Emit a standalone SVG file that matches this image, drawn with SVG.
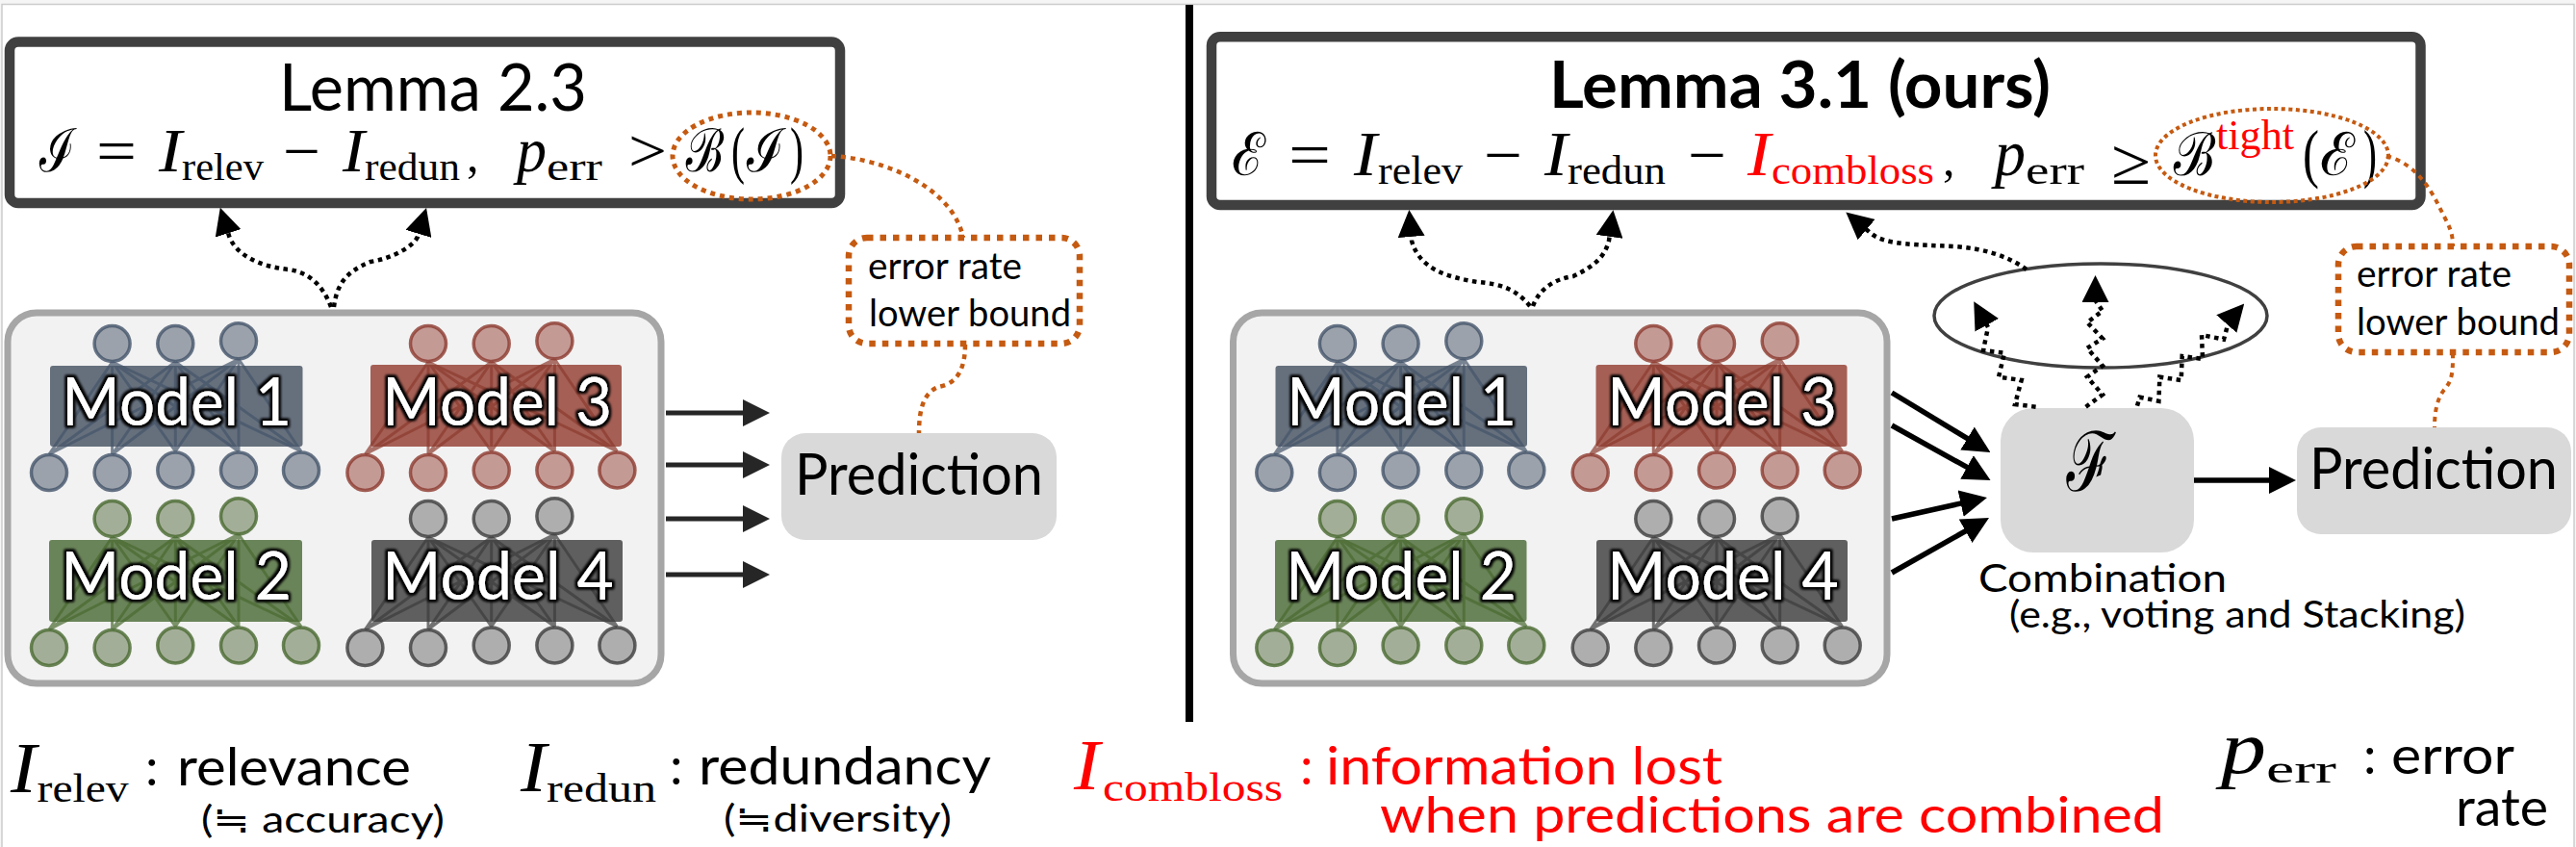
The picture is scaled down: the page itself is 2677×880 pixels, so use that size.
<svg xmlns="http://www.w3.org/2000/svg" xmlns:xlink="http://www.w3.org/1999/xlink" width="2677" height="880" viewBox="0 0 2677 880">
<style>
text{font-family:"Liberation Serif","DejaVu Serif",serif;fill:#000}
.s{font-family:Lato,"Liberation Sans","Noto Sans CJK JP",sans-serif}
.c{font-family:"DejaVu Serif","Noto Sans",serif;font-style:italic}
.i{font-style:italic}
.red{fill:#f00}
.lemma{fill:#fff;stroke:#404040;stroke-width:10.5}
.pbox{fill:#d9d9d9}
.mbox{fill:#f2f2f2;stroke:#a6a6a6;stroke-width:7}
.ell{fill:none;stroke:#c55a11;stroke-width:5;stroke-dasharray:5 5}
.ebox{fill:#fff;stroke:#c55a11;stroke-width:6.5;stroke-dasharray:6.5 7}
.lead{fill:none;stroke:#c55a11;stroke-width:4.5;stroke-dasharray:5 5}
.dot{fill:none;stroke:#000;stroke-width:4.5;stroke-dasharray:4.5 4.5;marker-end:url(#ah)}
.arr{fill:none;stroke:#262626;stroke-width:5;marker-end:url(#ag)}
.ark{fill:none;stroke:#000;stroke-width:5.5;marker-end:url(#ah)}
.lab{fill:#fff;font-size:70px;filter:url(#glow)}
#net path{fill:none;stroke:var(--e);stroke-width:3;stroke-opacity:.7}
#net circle{fill:var(--n);stroke:var(--e);stroke-width:3.5;stroke-opacity:.8}
.blue{--e:#44546a;--n:#9ca2ab}
.redn{--e:#8c3a2e;--n:#c49a95}
.green{--e:#48692f;--n:#a3ae98}
.gray{--e:#3c3c3c;--n:#aeaeae}
</style>
<defs>
<marker id="ah" markerUnits="userSpaceOnUse" markerWidth="28" markerHeight="28" refX="14" refY="14" orient="auto"><path d="M0 0L28 14L0 28z" fill="#000"/></marker>
<marker id="ag" markerUnits="userSpaceOnUse" markerWidth="28" markerHeight="28" refX="14" refY="14" orient="auto"><path d="M0 0L28 14L0 28z" fill="#262626"/></marker>
<filter id="glow" x="-10%" y="-20%" width="120%" height="140%"><feMorphology in="SourceAlpha" operator="dilate" radius="2"/><feGaussianBlur stdDeviation="1.6" result="b"/><feMerge><feMergeNode in="b"/><feMergeNode in="b"/><feMergeNode in="SourceGraphic"/></feMerge></filter>
<g id="net">
<path d="M116.6 376L51 472M116.6 376V472M116.6 376L182.3 469M116.6 376L248 469M116.6 376L313 469M182.3 376L51 472M182.3 376L116.6 472M182.3 376V469M182.3 376L248 469M182.3 376L313 469M248 373L51 472M248 373L116.6 472M248 373L182.3 469M248 373V469M248 373L313 469"/>
<circle cx="116.6" cy="357" r="18.5"/><circle cx="182.3" cy="357" r="18.5"/><circle cx="248" cy="354.3" r="18.5"/>
<circle cx="51" cy="491" r="18.5"/><circle cx="116.6" cy="491" r="18.5"/><circle cx="182.3" cy="488.5" r="18.5"/><circle cx="248" cy="488.5" r="18.5"/><circle cx="313" cy="488.5" r="18.5"/>
</g>
</defs>
<rect width="2677" height="880" fill="#f5f5f5"/>
<rect x="2" y="4.5" width="2673" height="880" fill="#fff" stroke="#ccc" stroke-width="1.5"/>
<rect id="divider" x="1232" y="5" width="8" height="745" fill="#000"/>

<g id="lemma-left">
<rect class="lemma" x="10" y="43.5" width="863" height="167.5" rx="9"/>
<text class="s" x="290" y="115" font-size="67" textLength="320" lengthAdjust="spacingAndGlyphs">Lemma 2.3</text>
<text class="c" x="41" y="178" font-size="62" textLength="37" lengthAdjust="spacingAndGlyphs">ℐ</text>
<text x="100" y="178" font-size="63" textLength="42" lengthAdjust="spacingAndGlyphs">=</text>
<text class="i" x="165" y="178" font-size="64" textLength="24" lengthAdjust="spacingAndGlyphs">I</text>
<text x="189" y="187" font-size="40" textLength="85" lengthAdjust="spacingAndGlyphs">relev</text>
<text x="294" y="178" font-size="63" textLength="39" lengthAdjust="spacingAndGlyphs">−</text>
<text class="i" x="356" y="178" font-size="64" textLength="23" lengthAdjust="spacingAndGlyphs">I</text>
<text x="379" y="187" font-size="41" textLength="99" lengthAdjust="spacingAndGlyphs">redun</text>
<text x="485" y="178" font-size="50">,</text>
<text class="i" x="537" y="178" font-size="66" textLength="31" lengthAdjust="spacingAndGlyphs">p</text>
<text x="568" y="187" font-size="40" textLength="58" lengthAdjust="spacingAndGlyphs">err</text>
<text x="653" y="178" font-size="63" textLength="40" lengthAdjust="spacingAndGlyphs">&gt;</text>
<text class="c" x="712" y="178" font-size="62" textLength="41" lengthAdjust="spacingAndGlyphs">ℬ</text>
<text x="760" y="178" font-size="66" textLength="14" lengthAdjust="spacingAndGlyphs">(</text>
<text class="c" x="776" y="178" font-size="62" textLength="39" lengthAdjust="spacingAndGlyphs">ℐ</text>
<text x="821" y="178" font-size="66" textLength="14" lengthAdjust="spacingAndGlyphs">)</text>
<ellipse class="ell" cx="781" cy="162" rx="82" ry="45"/>
</g>

<g id="models-left">
<rect class="mbox" x="8" y="325" width="679" height="385" rx="30"/>
<g id="model-1"><rect x="52" y="380" width="262.500" height="84" rx="3" fill="#66707d"/><use href="#net" class="blue"/><text class="s lab" x="64" y="442" textLength="239" lengthAdjust="spacingAndGlyphs">Model 1</text></g>
<g id="model-3"><rect x="385" y="379" width="261" height="85" rx="3" fill="#a55f55"/><use href="#net" class="redn" x="328.400"/><text class="s lab" x="397" y="442" textLength="239" lengthAdjust="spacingAndGlyphs">Model 3</text></g>
<g id="model-2"><rect x="51" y="561" width="263" height="85" rx="3" fill="#6a8459"/><use href="#net" class="green" y="182"/><text class="s lab" x="63" y="623" textLength="240" lengthAdjust="spacingAndGlyphs">Model 2</text></g>
<g id="model-4"><rect x="386" y="561" width="261" height="85" rx="3" fill="#5f5f5f"/><use href="#net" class="gray" x="328.400" y="182"/><text class="s lab" x="397" y="623" textLength="241" lengthAdjust="spacingAndGlyphs">Model 4</text></g>
</g>

<g id="prediction-left"><rect class="pbox" x="812" y="450" width="286" height="111" rx="25"/><text class="s" x="826" y="514" font-size="60" textLength="258" lengthAdjust="spacingAndGlyphs">Prediction</text></g>
<g id="bound-left"><rect class="ebox" x="882" y="247" width="240" height="110" rx="19"/><text class="s" x="902" y="290" font-size="38" textLength="160" lengthAdjust="spacingAndGlyphs">error rate</text><text class="s" x="903" y="339" font-size="38" textLength="210" lengthAdjust="spacingAndGlyphs">lower bound</text></g>

<g id="lemma-right">
<rect class="lemma" x="1259" y="38.300" width="1256.500" height="174.700" rx="9"/>
<text class="s" x="1610" y="112" font-size="67" font-weight="700" textLength="521" lengthAdjust="spacingAndGlyphs">Lemma 3.1 (ours)</text>
<text class="c" x="1280" y="182" font-size="62" textLength="35" lengthAdjust="spacingAndGlyphs">ℰ</text>
<text x="1339" y="182" font-size="63" textLength="44" lengthAdjust="spacingAndGlyphs">=</text>
<text class="i" x="1407" y="182" font-size="66" textLength="24" lengthAdjust="spacingAndGlyphs">I</text>
<text x="1432" y="191" font-size="43" textLength="88" lengthAdjust="spacingAndGlyphs">relev</text>
<text x="1542" y="182" font-size="63" textLength="40" lengthAdjust="spacingAndGlyphs">−</text>
<text class="i" x="1605" y="182" font-size="66" textLength="24" lengthAdjust="spacingAndGlyphs">I</text>
<text x="1629" y="191" font-size="43" textLength="102" lengthAdjust="spacingAndGlyphs">redun</text>
<text x="1754" y="182" font-size="63" textLength="40" lengthAdjust="spacingAndGlyphs">−</text>
<text class="i red" x="1816" y="182" font-size="66" textLength="24" lengthAdjust="spacingAndGlyphs">I</text>
<text class="red" x="1841" y="191" font-size="43" textLength="169" lengthAdjust="spacingAndGlyphs">combloss</text>
<text x="2019" y="182" font-size="50">,</text>
<text class="i" x="2073" y="182" font-size="68" textLength="32" lengthAdjust="spacingAndGlyphs">p</text>
<text x="2105" y="191" font-size="43" textLength="61" lengthAdjust="spacingAndGlyphs">err</text>
<text x="2194" y="191" font-size="68" textLength="41" lengthAdjust="spacingAndGlyphs">≥</text>
<text class="c" x="2258" y="182" font-size="62" textLength="45" lengthAdjust="spacingAndGlyphs">ℬ</text>
<text class="red" x="2303" y="155" font-size="44" textLength="81" lengthAdjust="spacingAndGlyphs">tight</text>
<text x="2393" y="182" font-size="68" textLength="17" lengthAdjust="spacingAndGlyphs">(</text>
<text class="c" x="2411" y="182" font-size="62" textLength="36" lengthAdjust="spacingAndGlyphs">ℰ</text>
<text x="2456" y="182" font-size="68" textLength="14" lengthAdjust="spacingAndGlyphs">)</text>
<ellipse class="ell" style="stroke-width:4;stroke-dasharray:4 3.500" cx="2361" cy="161.500" rx="121" ry="48.500"/>
</g>

<g id="models-right">
<rect class="mbox" x="1281.500" y="325" width="679.500" height="385" rx="30"/>
<g id="model-1-r"><rect x="1325.500" y="380" width="261.500" height="84" rx="3" fill="#66707d"/><use href="#net" class="blue" x="1273.300"/><text class="s lab" x="1337" y="442" textLength="239" lengthAdjust="spacingAndGlyphs">Model 1</text></g>
<g id="model-3-r"><rect x="1658.500" y="379" width="261" height="85" rx="3" fill="#a55f55"/><use href="#net" class="redn" x="1601.700"/><text class="s lab" x="1670" y="442" textLength="239" lengthAdjust="spacingAndGlyphs">Model 3</text></g>
<g id="model-2-r"><rect x="1325" y="561" width="261.500" height="85" rx="3" fill="#6a8459"/><use href="#net" class="green" x="1273.300" y="182"/><text class="s lab" x="1336" y="623" textLength="240" lengthAdjust="spacingAndGlyphs">Model 2</text></g>
<g id="model-4-r"><rect x="1659" y="561" width="261" height="85" rx="3" fill="#5f5f5f"/><use href="#net" class="gray" x="1601.700" y="182"/><text class="s lab" x="1670" y="623" textLength="241" lengthAdjust="spacingAndGlyphs">Model 4</text></g>
</g>

<g id="combination"><rect class="pbox" x="2079" y="424" width="201" height="150" rx="34"/><text class="c" x="2146" y="510" font-size="86" textLength="50" lengthAdjust="spacingAndGlyphs">ℱ</text>
<text class="s" x="2056" y="615" font-size="40" textLength="258" lengthAdjust="spacingAndGlyphs">Combination</text>
<text class="s" x="2088" y="652" font-size="38" textLength="474" lengthAdjust="spacingAndGlyphs">(e.g., voting and Stacking)</text></g>
<g id="prediction-right"><rect class="pbox" x="2387" y="444" width="285" height="111" rx="25"/><text class="s" x="2400" y="508" font-size="60" textLength="258" lengthAdjust="spacingAndGlyphs">Prediction</text></g>
<g id="bound-right"><rect class="ebox" x="2430" y="256" width="240" height="110" rx="19"/><text class="s" x="2449" y="298" font-size="38" textLength="161" lengthAdjust="spacingAndGlyphs">error rate</text><text class="s" x="2449" y="348" font-size="38" textLength="211" lengthAdjust="spacingAndGlyphs">lower bound</text></g>
<g id="combine-ellipse"><ellipse cx="2183" cy="328" rx="173" ry="54" fill="none" stroke="#404040" stroke-width="3.500"/></g>

<g id="connectors">
<path class="lead" d="M864 162C920 165 990 195 1001 247"/>
<path class="lead" d="M1003 358C1003 395 985 400 975 402C960 408 955 425 955 450"/>
<path class="lead" style="stroke-width:4" d="M2480 162C2510 170 2525 195 2535 215C2545 235 2549 240 2549 256"/>
<path class="lead" style="stroke-width:4" d="M2549 367C2549 385 2549 395 2540 405C2532 415 2530 430 2530 444"/>
<path class="arr" d="M692 429H786"/><path class="arr" d="M692 483H786"/><path class="arr" d="M692 539H786"/><path class="arr" d="M692 597H786"/>
<path class="ark" d="M1966 408L2056.500 462.800"/><path class="ark" d="M1966 442L2056.300 492.200"/><path class="ark" d="M1966 539L2051.300 520"/><path class="ark" d="M1966 595L2054.800 544.900"/>
<path class="ark" d="M2280 499H2372"/>
<path class="dot" d="M344 319C335 295 320 283 300 280C270 277 245 265 238 245L233 229"/>
<path class="dot" d="M347 319C350 295 360 282 385 272C410 268 430 255 434 246L439 229.500"/>
<path class="dot" d="M1590 318C1575 300 1560 295 1535 293C1505 288 1475 280 1467 250L1465.500 232"/>
<path class="dot" d="M1593 318C1600 300 1615 290 1635 287C1660 275 1668 265 1672 250L1674.500 232"/>
<path class="dot" d="M2106 280C2085 265 2060 258 2030 256C1995 254 1960 255 1945 243L1929 229.500"/>
<path class="dot" d="M2115.600 422.700L2094 420L2100.700 395L2077 391.700L2083 366.700L2061 364L2066 340L2058 325.500"/>
<path class="dot" d="M2167.600 422.700L2185 410L2169 391.700L2185 380L2169 361.700L2185 351.700L2169 335L2185 323L2177.500 312L2177.500 300"/>
<path class="dot" d="M2221 421.700L2223.600 412.700L2243.400 416.700L2244.400 391.700L2266.700 395L2267.700 370L2289 373L2288 348L2311 352.700L2316 334L2323 326"/>
</g>

<g id="legend">
<text class="i" x="11" y="823" font-size="74" textLength="27" lengthAdjust="spacingAndGlyphs">I</text><text x="38.600" y="833" font-size="42" textLength="95" lengthAdjust="spacingAndGlyphs">relev</text>
<text class="s" x="151" y="816" font-size="54">:</text><text class="s" x="184" y="816" font-size="54" textLength="243" lengthAdjust="spacingAndGlyphs">relevance</text>
<text class="s" x="209" y="865" font-size="38" textLength="253" lengthAdjust="spacingAndGlyphs">(≒ accuracy)</text>
<text class="i" x="541" y="822" font-size="74" textLength="27" lengthAdjust="spacingAndGlyphs">I</text><text x="568" y="833" font-size="42" textLength="114" lengthAdjust="spacingAndGlyphs">redun</text>
<text class="s" x="696" y="815" font-size="54">:</text><text class="s" x="726" y="815" font-size="54" textLength="304" lengthAdjust="spacingAndGlyphs">redundancy</text>
<text class="s" x="752" y="864" font-size="38" textLength="237" lengthAdjust="spacingAndGlyphs">(≒diversity)</text>
<text class="i red" x="1116" y="820" font-size="74" textLength="27" lengthAdjust="spacingAndGlyphs">I</text><text class="red" x="1146" y="832" font-size="42" textLength="187" lengthAdjust="spacingAndGlyphs">combloss</text>
<text class="s red" x="1351" y="815" font-size="54">:</text><text class="s red" x="1378" y="815" font-size="54" textLength="412" lengthAdjust="spacingAndGlyphs">information lost</text>
<text class="s red" x="1434" y="865" font-size="52" textLength="815" lengthAdjust="spacingAndGlyphs">when predictions are combined</text>
<text class="i" x="2308" y="803" font-size="78" textLength="47" lengthAdjust="spacingAndGlyphs">p</text><text x="2355" y="813" font-size="42" textLength="73" lengthAdjust="spacingAndGlyphs">err</text>
<text class="s" x="2456" y="804" font-size="54">:</text><text class="s" x="2485" y="804" font-size="54" textLength="128" lengthAdjust="spacingAndGlyphs">error</text>
<text class="s" x="2552" y="858" font-size="54" textLength="96" lengthAdjust="spacingAndGlyphs">rate</text>
</g>
</svg>
